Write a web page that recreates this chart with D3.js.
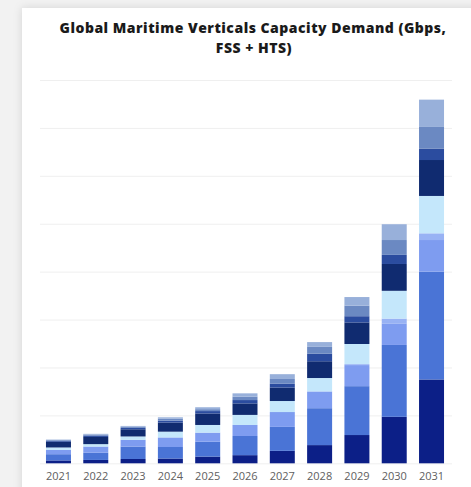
<!DOCTYPE html>
<html>
<head>
<meta charset="utf-8">
<script src="https://cdn.jsdelivr.net/npm/d3@7"></script>
<style>
  html, body { margin: 0; padding: 0; background: #f2f2f2; }
  svg { display: block; }
  .title { font-family: 'Open Sans', sans-serif; font-weight: 800; font-size: 14px; letter-spacing: 0.5px; fill: #1a1a1a; }
  .x.axis text { font-family: 'Open Sans', sans-serif; font-size: 11px; fill: #606060; }
  .grid line { stroke: #efefef; stroke-width: 1; }
</style>
</head>
<body>
<svg width="471" height="487"></svg>
<script>
// Years along the x axis
var years = ['2021', '2022', '2023', '2024', '2025', '2026', '2027', '2028', '2029', '2030', '2031'];

// Stacked series, bottom to top
var seriesA = [6, 7, 9, 10, 14, 17, 26, 38, 59, 97, 175];
var seriesB = [13, 15, 26, 24, 31, 40, 50, 77, 102, 150, 225];
var seriesC = [9, 13, 14, 20, 19, 23, 31, 35, 44, 45, 66];
var seriesD = [0, 0, 0, 0, 0, 0, 0, 0, 2, 10, 14];
var seriesE = [5, 5, 7, 12, 16, 21, 23, 28, 42, 58, 78];
var seriesF = [12, 15, 15, 19, 24, 24, 28, 35, 45, 56, 75];
var seriesG = [2, 3, 3, 4, 5, 7, 8, 16, 13, 19, 24];
var seriesH = [1.5, 2, 2.5, 4, 4, 7, 10, 14, 22, 31, 45];
var seriesI = [1, 1.5, 1.5, 3, 4, 7, 10, 10, 18, 33, 57];

var gridTicks = [0, 100, 200, 300, 400, 500, 600, 700, 800];

var seriesList = [seriesA, seriesB, seriesC, seriesD, seriesE, seriesF, seriesG, seriesH, seriesI];
var colors = ['#0c1f87', '#4a74d6', '#7e9cf0', '#98b2f4', '#c4e7fb', '#102b70', '#2b4c9f', '#6b89c2', '#98b0da'];
var keys = seriesList.map(function(d, i) { return 's' + i; });

// Build a table the stack layout can use
var table = years.map(function(y, i) {
    var row = {year: y};
    seriesList.forEach(function(s, k) { row[keys[k]] = s[i]; });
    return row;
});

var svg = d3.select('svg');

// Card with a soft shadow
var defs = svg.append('defs');
var filter = defs.append('filter').attr('id', 'shadow')
    .attr('x', '-10%').attr('y', '-10%').attr('width', '120%').attr('height', '120%');
filter.append('feDropShadow')
    .attr('dx', 0).attr('dy', 0)
    .attr('stdDeviation', 4)
    .attr('flood-color', '#000')
    .attr('flood-opacity', 0.13);

svg.append('rect')
    .attr('x', 22).attr('y', 8)
    .attr('width', 480).attr('height', 500)
    .attr('fill', '#fff')
    .attr('filter', 'url(#shadow)');

// Title
var title = svg.append('text')
    .attr('class', 'title')
    .attr('text-anchor', 'middle');
title.append('tspan').attr('x', 253).attr('y', 33).text('Global Maritime Verticals Capacity Demand (Gbps,');
title.append('tspan').attr('x', 254).attr('y', 53).text('FSS + HTS)');

// Scales
var xScale = d3.scaleBand()
    .domain(years)
    .range([40, 450])
    .paddingInner(0.33)
    .paddingOuter(0.16);

var yScale = d3.scaleLinear()
    .domain([0, 800])
    .range([463.3, 80]);

// Horizontal gridlines
svg.append('g')
    .attr('class', 'grid')
    .attr('transform', 'translate(' + [40, 0] + ')')
    .call(d3.axisLeft(yScale).tickValues(gridTicks).tickSize(-412).tickFormat(''))
    .call(function(g) { g.select('.domain').remove(); });

// Stacked bars
var stacked = d3.stack().keys(keys)(table);

var layers = svg.append('g')
    .selectAll('.layer')
    .data(stacked)
    .enter()
    .append('g')
    .attr('class', 'layer')
    .attr('fill', function(d, i) { return colors[i]; });

layers.selectAll('rect')
    .data(function(d) { return d; })
    .enter()
    .append('rect')
    .attr('x', function(d) { return xScale(d.data.year); })
    .attr('width', xScale.bandwidth())
    .attr('y', function(d) { return yScale(d[1]); })
    .attr('height', function(d) { return yScale(d[0]) - yScale(d[1]); });

// Year labels
svg.append('g')
    .attr('class', 'x axis')
    .attr('transform', 'translate(' + [0, 468] + ')')
    .call(d3.axisBottom(xScale).tickSize(0).tickPadding(4))
    .call(function(g) { g.select('.domain').remove(); });
</script>
</body>
</html>
